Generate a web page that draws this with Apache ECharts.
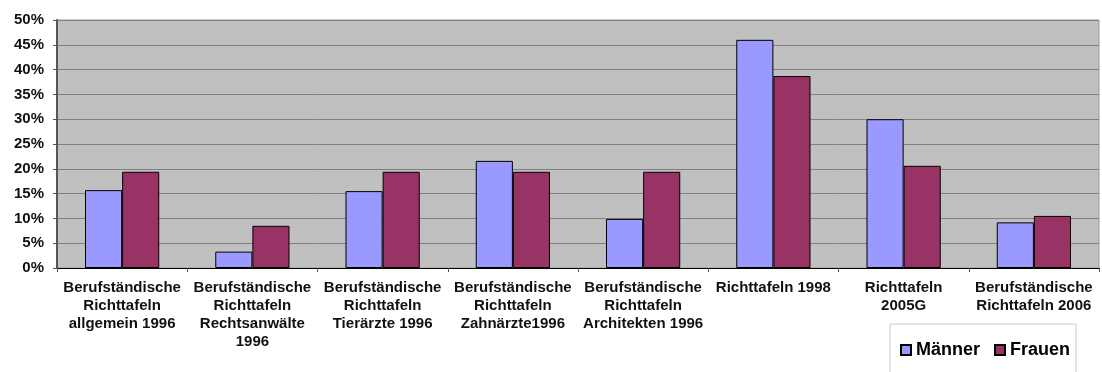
<!DOCTYPE html>
<html>
<head>
<meta charset="utf-8">
<script src="https://cdn.jsdelivr.net/npm/echarts@6/dist/echarts.min.js"></script>
<style>
  html, body { margin: 0; padding: 0; background: #ffffff; }
  #chart { width: 1102px; height: 372px; }
</style>
</head>
<body>
<div id="chart"></div>
<script>
// Mortality tables compared (share in %)
const categories = [
  'Berufständische\nRichttafeln\nallgemein 1996',
  'Berufständische\nRichttafeln\nRechtsanwälte\n1996',
  'Berufständische\nRichttafeln\nTierärzte 1996',
  'Berufständische\nRichttafeln\nZahnärzte1996',
  'Berufständische\nRichttafeln\nArchitekten 1996',
  'Richttafeln 1998',
  'Richttafeln\n2005G',
  'Berufständische\nRichttafeln 2006'
];
const maennerValues = [15.7, 3.3, 15.5, 21.6, 9.9, 46.0, 30.0, 9.2];
const frauenValues  = [19.4, 8.5, 19.4, 19.4, 19.4, 38.7, 20.6, 10.5];
const seriesNames = ['Männer', 'Frauen'];

const FONT = '"Liberation Sans", Arial, sans-serif';

const chart = echarts.init(document.getElementById('chart'));
chart.setOption({
  animation: false,
  backgroundColor: '#ffffff',
  grid: {
    left: 57, right: 3, top: 20, bottom: 104,
    show: true,
    backgroundColor: '#C0C0C0',
    borderColor: '#9a9a9a',
    borderWidth: 1
  },
  legend: {
    data: seriesNames,
    left: 890,
    top: 324,
    orient: 'horizontal',
    icon: 'rect',
    itemWidth: 10,
    itemHeight: 10,
    itemGap: 14,
    padding: [17, 6, 40, 10],
    backgroundColor: '#ffffff',
    borderColor: '#c8c8c8',
    borderWidth: 1,
    textStyle: {
      fontFamily: FONT,
      fontSize: 18,
      fontWeight: 'bold',
      color: '#000000',
      padding: [0, 0, 0, 0]
    }
  },
  xAxis: {
    type: 'category',
    data: categories,
    axisLine: { show: true, lineStyle: { color: '#000000', width: 1 } },
    axisTick: { show: true, length: 4, lineStyle: { color: '#555555' } },
    axisLabel: {
      interval: 0,
      margin: 11,
      fontFamily: FONT,
      fontSize: 15,
      fontWeight: 'bold',
      lineHeight: 18,
      color: '#111111',
      align: 'center'
    },
    splitLine: { show: false }
  },
  yAxis: {
    type: 'value',
    min: 0,
    max: 50,
    interval: 5,
    axisLine: { show: true, lineStyle: { color: '#555555', width: 2 } },
    axisTick: { show: true, length: 4, lineStyle: { color: '#555555' } },
    axisLabel: {
      formatter: '{value}%',
      margin: 13,
      fontFamily: FONT,
      fontSize: 15,
      fontWeight: 'bold',
      color: '#111111'
    },
    splitLine: { show: true, lineStyle: { color: '#808080', width: 1 } }
  },
  series: [
    {
      name: seriesNames[0],
      type: 'bar',
      data: maennerValues,
      barGap: '0%',
      barCategoryGap: '43%',
      itemStyle: { color: '#9999FF', borderColor: '#000000', borderWidth: 1 }
    },
    {
      name: seriesNames[1],
      type: 'bar',
      data: frauenValues,
      barGap: '0%',
      barCategoryGap: '43%',
      itemStyle: { color: '#993366', borderColor: '#000000', borderWidth: 1 }
    }
  ]
});
</script>
</body>
</html>
